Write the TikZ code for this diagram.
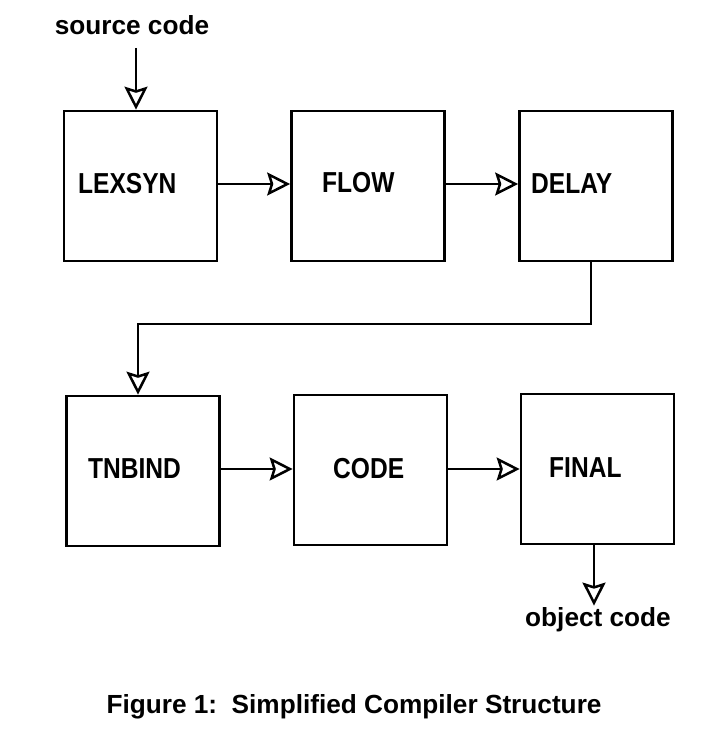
\documentclass[tikz,border=0pt]{standalone}
\usepackage{fontspec}
\setmainfont{Liberation Sans}
\usetikzlibrary{arrows.meta}
\tikzset{
  box/.style={draw, line width=2.6bp, minimum width=153bp, minimum height=150bp, inner sep=0pt},
  lbl/.style={anchor=west, inner sep=0pt, font=\bfseries\fontsize{29}{30}\selectfont},
  io/.style={inner sep=0pt, font=\bfseries\fontsize{26.3}{28}\selectfont},
  conn/.style={line width=2.5bp, -{Stealth[open, fill=white, length=23bp, width=23bp, inset=3.5bp]}},
}
\newcommand{\narrow}[1]{\scalebox{0.85}[1]{#1}}
\begin{document}
\begin{tikzpicture}[x=1bp, y=-1bp]
\useasboundingbox (0,0) rectangle (713,740);
% boxes
\node[box] (lex)   at (140.5,186) {};
\node[box] (flow)  at (368,186) {};
\node[box] (delay) at (596,186) {};
\node[box] (tnb)   at (143,471) {};
\node[box] (code)  at (370.5,470) {};
\node[box] (final) at (597.5,469) {};
% labels
\node[lbl] (llex)   at (78,184)  {\narrow{LEXSYN}};
\node[lbl] (lflow)  at (322,183) {\narrow{FLOW}};
\node[lbl] (ldelay) at (531,184) {\narrow{DELAY}};
\node[lbl] (ltnb)   at (88,469)  {\narrow{TNBIND}};
\node[lbl] (lcode)  at (333,469) {\narrow{CODE}};
\node[lbl] (lfinal) at (549,468) {\narrow{FINAL}};
% io texts
\node[io] (src) at (132,25) {source code};
\node[io] (obj) at (598,620) {object code};
\node[io] (cap) at (354,707) {Figure 1:\ \ Simplified Compiler Structure};
% connectors
\coordinate (srcin) at (136,48);
\draw[conn] (srcin) -- (srcin |- lex.north);
\coordinate (r1) at (0,184);
\coordinate (r2) at (0,469);
\draw[conn] (lex.east |- r1) -- (flow.west |- r1);
\draw[conn] (flow.east |- r1) -- (delay.west |- r1);
\coordinate (dout) at (591,0);
\coordinate (tin) at (138,324);
\draw[conn] (delay.south -| dout) |- (tin) -- (tin |- tnb.north);
\draw[conn] (tnb.east |- r2) -- (code.west |- r2);
\draw[conn] (code.east |- r2) -- (final.west |- r2);
\coordinate (fout) at (594,0);
\draw[conn] (final.south -| fout) -- ([yshift=2bp]obj.north -| fout);
\end{tikzpicture}
\end{document}
